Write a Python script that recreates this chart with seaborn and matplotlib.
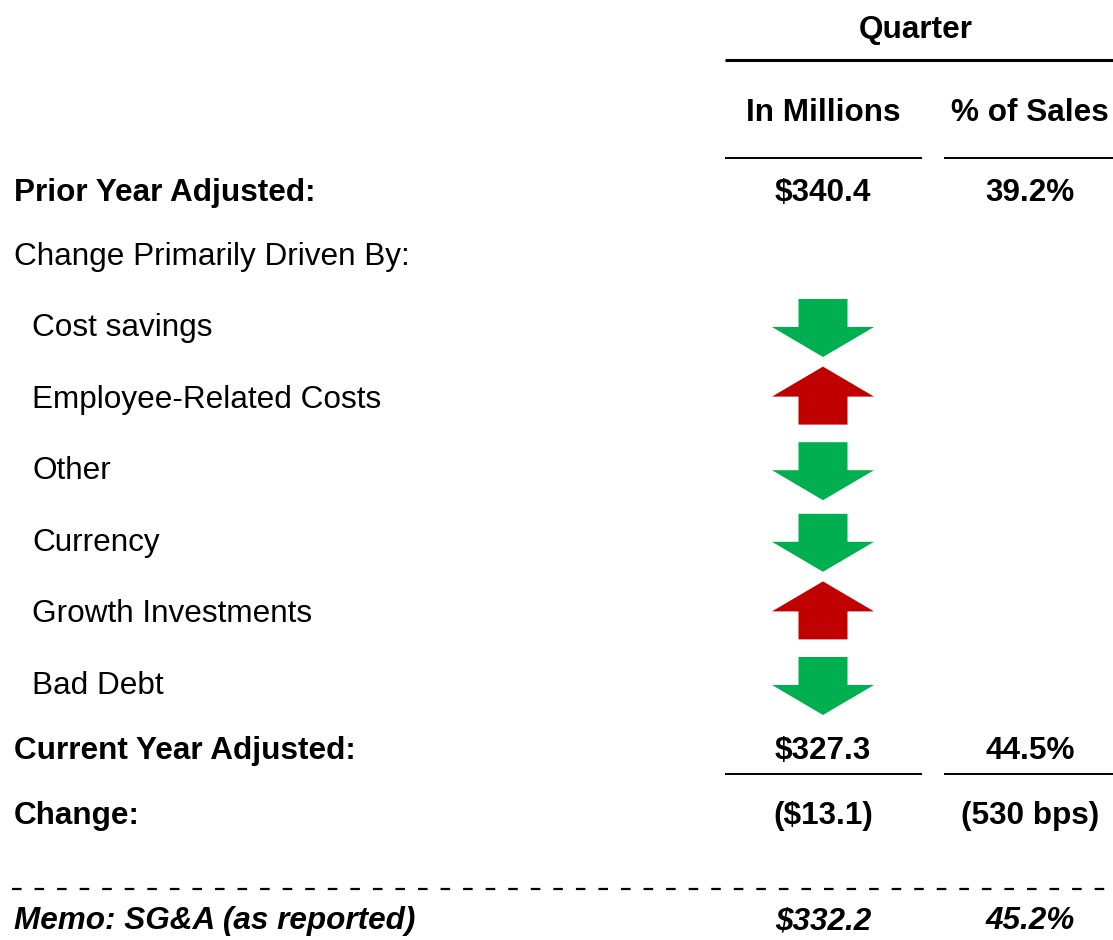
import matplotlib
matplotlib.use("Agg")
import matplotlib.pyplot as plt
import seaborn as sns
import pandas as pd

# ---- data ----
drivers = ["Cost savings", "Employee-Related Costs", "Other", "Currency",
           "Growth Investments", "Bad Debt"]
directions = ["down", "up", "down", "down", "up", "down"]
col_headers = ["In Millions", "% of Sales"]
group_header = "Quarter"
prior_label = "Prior Year Adjusted:"
prior_values = ["$340.4", "39.2%"]
driven_label = "Change Primarily Driven By:"
current_label = "Current Year Adjusted:"
current_values = ["$327.3", "44.5%"]
change_label = "Change:"
change_values = ["($13.1)", "(530 bps)"]
memo_label = "Memo: SG&A (as reported)"
memo_values = ["$332.2", "45.2%"]

sns.set_theme(style="white")
plt.rcParams['font.family'] = ['Liberation Sans', 'DejaVu Sans']

W, H = 1113, 940
fig = plt.figure(figsize=(W / 100, H / 100), dpi=100)
ax = fig.add_axes([0, 0, 1, 1])
ax.set_xlim(0, W)
ax.set_ylim(H, 0)
ax.axis("off")

FS = 22.7
TY = 3  # text vertical offset
col_x = [823, 1030]
col_span = [(725, 922), (944, 1113)]
left_x = 14
indent_x = 32


def txt(x, y, s, ha="left", **kw):
    ax.text(x, y + TY, s, ha=ha, va="center", fontsize=FS, color="black", **kw)


# header
txt(916, 27, group_header, ha="center", fontweight="bold")
ax.plot([725, 1113], [60, 60], color="black", lw=2.2, solid_capstyle="butt")
for x, t, (a, b) in zip(col_x, col_headers, col_span):
    txt(x, 110, t, ha="center", fontweight="bold")
    ax.plot([a, b], [158, 158], color="black", lw=1.4, solid_capstyle="butt")

# prior year
y_prior = 190
txt(left_x, y_prior, prior_label, fontweight="bold")
for x, v in zip(col_x, prior_values):
    txt(x, y_prior, v, ha="center", fontweight="bold")

txt(left_x, 254, driven_label)

# drivers
df = pd.DataFrame({"label": drivers, "dir": directions})
row0, step = 325, 71.6
arrow_len, head_len = 58, 30
shaft_w, head_w = 49, 102
for i, r in df.iterrows():
    y = row0 + i * step
    txt(indent_x, y, r["label"])
    if r["dir"] == "down":
        ax.arrow(col_x[0], y - 26, 0, arrow_len, width=shaft_w, head_width=head_w,
                 head_length=head_len, length_includes_head=True,
                 fc="#00B050", ec="none")
    else:
        ax.arrow(col_x[0], y + 28, 0, -arrow_len, width=shaft_w, head_width=head_w,
                 head_length=head_len, length_includes_head=True,
                 fc="#C00000", ec="none")

# current year
y_cur = 748
txt(left_x, y_cur, current_label, fontweight="bold")
for x, v, (a, b) in zip(col_x, current_values, col_span):
    txt(x, y_cur, v, ha="center", fontweight="bold")
    ax.plot([a, b], [774, 774], color="black", lw=1.4, solid_capstyle="butt")

# change
y_chg = 813
txt(left_x, y_chg, change_label, fontweight="bold")
for x, v in zip(col_x, change_values):
    txt(x, y_chg, v, ha="center", fontweight="bold")

# dashed separator
ax.plot([12, 1105], [889, 889], color="black", lw=1.6, linestyle=(0, (4.3, 5.85)),
        dash_capstyle="butt")

# memo
y_memo = 918
txt(left_x, y_memo, memo_label, fontweight="bold", fontstyle="italic")
for x, v in zip(col_x, memo_values):
    txt(x, y_memo, v, ha="center", fontweight="bold", fontstyle="italic")

fig.savefig("out.png", dpi=100)
